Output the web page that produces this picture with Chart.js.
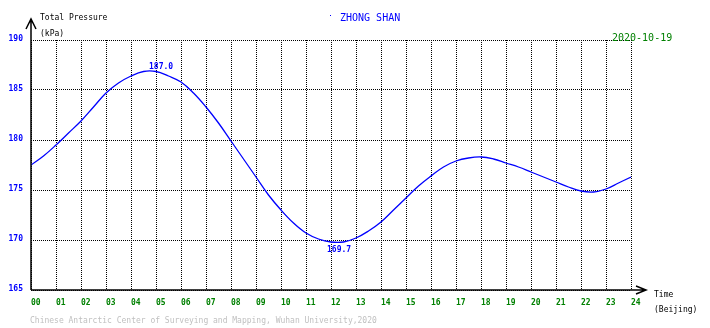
<!DOCTYPE html>
<html>
<head>
<meta charset="utf-8">
<script src="https://cdn.jsdelivr.net/npm/chart.js@4.4.1/dist/chart.umd.min.js"></script>
<style>
  html, body { margin: 0; padding: 0; background: #ffffff; }
  canvas { display: block; }
</style>
</head>
<body>
<canvas id="pressureChart" width="710" height="328"></canvas>
<script>
// half-hourly readings, Beijing time
const hours = [0, 0.5, 1, 1.5, 2, 2.5, 3, 3.5, 4, 4.5, 5, 5.5, 6, 6.5, 7, 7.5, 8, 8.5,
  9, 9.5, 10, 10.5, 11, 11.5, 12, 12.5, 13, 13.5, 14, 14.5, 15, 15.5, 16, 16.5,
  17, 17.5, 18, 18.5, 19, 19.5, 20, 20.5, 21, 21.5, 22, 22.5, 23, 23.5, 24];
const pressure = [177.5, 178.4, 179.5, 180.7, 181.9, 183.3, 184.7, 185.7, 186.4, 186.85, 186.85, 186.4,
  185.8, 184.7, 183.3, 181.7, 179.9, 178.1, 176.3, 174.5, 173.0, 171.7, 170.7, 170.1,
  169.8, 169.8, 170.2, 170.9, 171.8, 173.0, 174.2, 175.4, 176.4, 177.3, 177.9, 178.2,
  178.3, 178.1, 177.7, 177.3, 176.8, 176.3, 175.8, 175.3, 174.9, 174.8, 175.1, 175.7, 176.3];

// max / min markers
const extremeHours = [4.76, 11.84];
const extremeValues = [187.0, 169.7];

const stationName = 'ZHONG SHAN';
const dateLabel = '2020-10-19';
const yTitle = ['Total Pressure', '(kPa)'];
const xTitle = ['Time', '(Beijing)'];
const credit = 'Chinese Antarctic Center of Surveying and Mapping, Wuhan University,2020';

const MONO = '"DejaVu Sans Mono", monospace';

const decorPlugin = {
  id: 'decor',
  afterDraw(chart) {
    const ctx = chart.ctx;
    const area = chart.chartArea;
    const xs = chart.scales.x;
    const ys = chart.scales.y;
    const left = Math.round(area.left), bottom = Math.round(area.bottom);

    ctx.save();
    // axes with arrows
    ctx.strokeStyle = '#000000';
    ctx.lineWidth = 1.5;
    ctx.beginPath();
    ctx.moveTo(left, bottom);
    ctx.lineTo(left, 19);
    ctx.moveTo(left - 5, 29);
    ctx.lineTo(left, 19);
    ctx.lineTo(left + 5, 29);
    ctx.moveTo(left, bottom);
    ctx.lineTo(646, bottom);
    ctx.moveTo(636, bottom - 4);
    ctx.lineTo(646, bottom);
    ctx.lineTo(636, bottom + 4);
    ctx.stroke();

    // axis titles
    ctx.fillStyle = '#000000';
    ctx.font = '8px ' + MONO;
    ctx.textAlign = 'left';
    ctx.textBaseline = 'alphabetic';
    ctx.fillText(yTitle[0], 40, 20);
    ctx.fillText(yTitle[1], 40, 36);
    ctx.fillText(xTitle[0], 654, 297);
    ctx.fillText(xTitle[1], 654, 312);

    // station + date
    ctx.font = '10px ' + MONO;
    ctx.fillStyle = '#0000ff';
    ctx.fillRect(330, 15, 1, 1);
    ctx.fillText(stationName, 340, 21);
    ctx.fillStyle = '#008000';
    ctx.fillText(dateLabel, 612, 41);

    // credit
    ctx.font = '8px ' + MONO;
    ctx.fillStyle = '#c0c0c0';
    ctx.fillText(credit, 30, 323);

    // extreme value labels
    ctx.fillStyle = '#0000ff';
    ctx.font = 'bold 8px ' + MONO;
    ctx.fillText(extremeValues[0].toFixed(1), xs.getPixelForValue(extremeHours[0]) - 1, ys.getPixelForValue(extremeValues[0]) - 1);
    ctx.textBaseline = 'top';
    ctx.fillText(extremeValues[1].toFixed(1), xs.getPixelForValue(extremeHours[1]), ys.getPixelForValue(extremeValues[1]) + 3);
    ctx.restore();
  }
};

const bgPlugin = {
  id: 'bg',
  beforeDraw(chart) {
    const ctx = chart.ctx;
    ctx.save();
    ctx.fillStyle = '#ffffff';
    ctx.fillRect(0, 0, chart.width, chart.height);
    ctx.restore();
  }
};

new Chart(document.getElementById('pressureChart').getContext('2d'), {
  type: 'line',
  data: {
    datasets: [{
      label: 'Total Pressure',
      data: hours.map((h, i) => ({ x: h, y: pressure[i] })),
      borderColor: '#0000ff',
      borderWidth: 1.3,
      pointRadius: 0,
      fill: false,
      tension: 0.4
    }]
  },
  options: {
    responsive: false,
    animation: false,
    layout: { padding: { top: 40, right: 79, left: 0, bottom: 0 } },
    plugins: {
      legend: { display: false },
      tooltip: { enabled: false }
    },
    scales: {
      x: {
        type: 'linear',
        min: 0,
        max: 24,
        afterFit(scale) { scale.height = 38; },
        ticks: {
          stepSize: 1,
          autoSkip: false,
          maxRotation: 0,
          align: 'start',
          padding: 8,
          color: '#008000',
          font: { family: MONO, size: 8, weight: 'bold' },
          callback: v => String(v).padStart(2, '0')
        },
        grid: { color: '#000000', lineWidth: 1, drawTicks: false },
        border: { display: false, dash: [1, 1] }
      },
      y: {
        min: 165,
        max: 190,
        afterFit(scale) { scale.width = 31; },
        ticks: {
          stepSize: 5,
          padding: 8,
          labelOffset: -1,
          color: '#0000ff',
          font: { family: MONO, size: 8, weight: 'bold' }
        },
        grid: { color: '#000000', lineWidth: 1, drawTicks: false },
        border: { display: false, dash: [1, 1] }
      }
    }
  },
  plugins: [bgPlugin, decorPlugin]
});
</script>
</body>
</html>
